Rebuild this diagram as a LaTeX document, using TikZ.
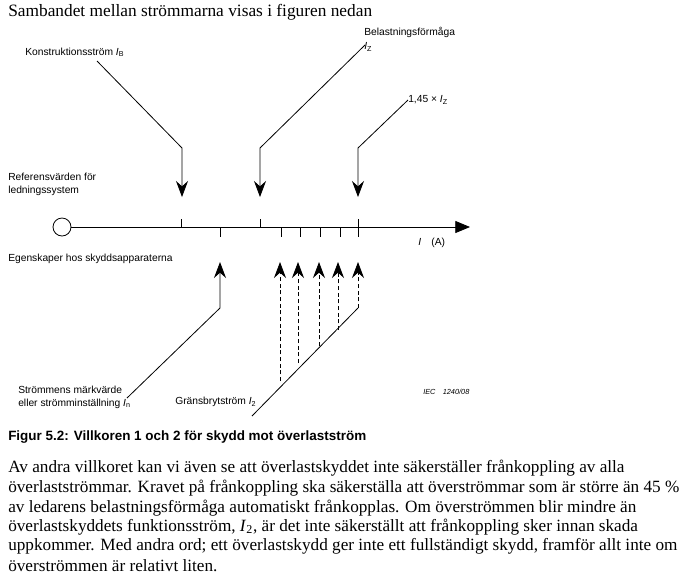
\documentclass[tikz,border=0pt]{standalone}
\usepackage{fontspec}
\setmainfont{Liberation Serif}
\setsansfont{Liberation Sans}
\usetikzlibrary{arrows.meta}
\begin{document}
\begin{tikzpicture}[x=0.75pt,y=-0.75pt,
  lab/.style={font=\sffamily\fontsize{7.7}{9}\selectfont,anchor=west,inner sep=0pt},
  body/.style={font=\fontsize{12.9}{14}\selectfont,anchor=west,inner sep=0pt},
  ptr/.style={line width=0.6pt,-{Stealth[length=12pt,width=9pt,inset=4pt]}},
  dptr/.style={line width=0.6pt,dashed,dash pattern=on 3pt off 2pt,-{Stealth[length=12pt,width=9pt,inset=4pt]}},
  tk/.style={line width=0.6pt}]
\useasboundingbox (0,0) rectangle (700,587);
\node[body,font=\fontsize{13}{14}\selectfont] (title) at (8,12) {Sambandet mellan strömmarna visas i figuren nedan};
% axis
\node[circle,draw,line width=0.6pt,minimum size=13.5pt,inner sep=0pt] (o) at (62,227) {};
\coordinate (aend) at (470,227);
\draw[line width=0.6pt,-{Triangle[length=11pt,width=9pt]}] (o) -- (aend);
\foreach \x in {181,260,358} \draw[tk] (\x,219) -- (\x,227);
\foreach \x in {220,281,300,320,340,358} \draw[tk] (\x,227) -- (\x,237);
% down arrows
\coordinate (ib0) at (97,61); \coordinate (ib1) at (182,148); \coordinate (ib2) at (182,197);
\draw[ptr] (ib0) -- (ib1) -- (ib2);
\coordinate (iz0) at (365,45); \coordinate (iz1) at (260,148); \coordinate (iz2) at (260,197);
\draw[ptr] (iz0) -- (iz1) -- (iz2);
\coordinate (if0) at (408,100); \coordinate (if1) at (358,148); \coordinate (if2) at (358,197);
\draw[ptr] (if0) -- (if1) -- (if2);
% up arrows
\coordinate (in0) at (127,398); \coordinate (in1) at (220,308); \coordinate (in2) at (220,262);
\draw[ptr] (in0) -- (in1) -- (in2);
\coordinate (g0) at (252,416); \coordinate (g1) at (358,308);
\draw[line width=0.6pt] (g0) -- (g1);
\foreach \x/\y in {280/381,298/363,319/346,338/330,358/308}
  \draw[dptr] (\x,\y) -- (\x,262);
% labels
\node[lab] (lib) at (25,52) {Konstruktionsström \textit{I}\textsubscript{B}};
\node[lab] (lbel) at (364,32) {Belastningsförmåga};
\node[lab] (liz) at (364,47) {\textit{I}\textsubscript{Z}};
\node[lab] (l145) at (408,100) {1,45 × \textit{I}\textsubscript{Z}};
\node[lab] (lref1) at (8,177) {Referensvärden för};
\node[lab] (lref2) at (8,191) {ledningssystem};
\node[lab] (lI) at (418,243) {\textit{I}\quad(A)};
\node[lab] (legen) at (8,259) {Egenskaper hos skyddsapparaterna};
\node[lab] (lin1) at (18,390) {Strömmens märkvärde};
\node[lab] (lin2) at (18,404) {eller strömminställning \textit{I}\textsubscript{n}};
\node[lab] (lg) at (175,402) {Gränsbrytström \textit{I}\textsubscript{2}};
\node[lab,font=\sffamily\itshape\fontsize{5.5}{6}\selectfont] (iec) at (423,392) {IEC\quad 1240/08};
\node[lab,font=\sffamily\bfseries\fontsize{10.1}{12}\selectfont] (cap) at (8,437) {Figur 5.2: Villkoren 1 och 2 för skydd mot överlastström};
% body
\node[body] (b1) at (8,468) {Av andra villkoret kan vi även se att överlastskyddet inte säkerställer frånkoppling av alla};
\node[body] (b2) at (8,488) {överlastströmmar. Kravet på frånkoppling ska säkerställa att överströmmar som är större än 45 \%};
\node[body] (b3) at (8,508) {av ledarens belastningsförmåga automatiskt frånkopplas. Om överströmmen blir mindre än};
\node[body] (b4) at (8,527) {överlastskyddets funktionsström, \textit{I}\textsubscript{2}, är det inte säkerställt att frånkoppling sker innan skada};
\node[body] (b5) at (8,546) {uppkommer. Med andra ord; ett överlastskydd ger inte ett fullständigt skydd, framför allt inte om};
\node[body] (b6) at (8,566) {överströmmen är relativt liten.};
\end{tikzpicture}
\end{document}
